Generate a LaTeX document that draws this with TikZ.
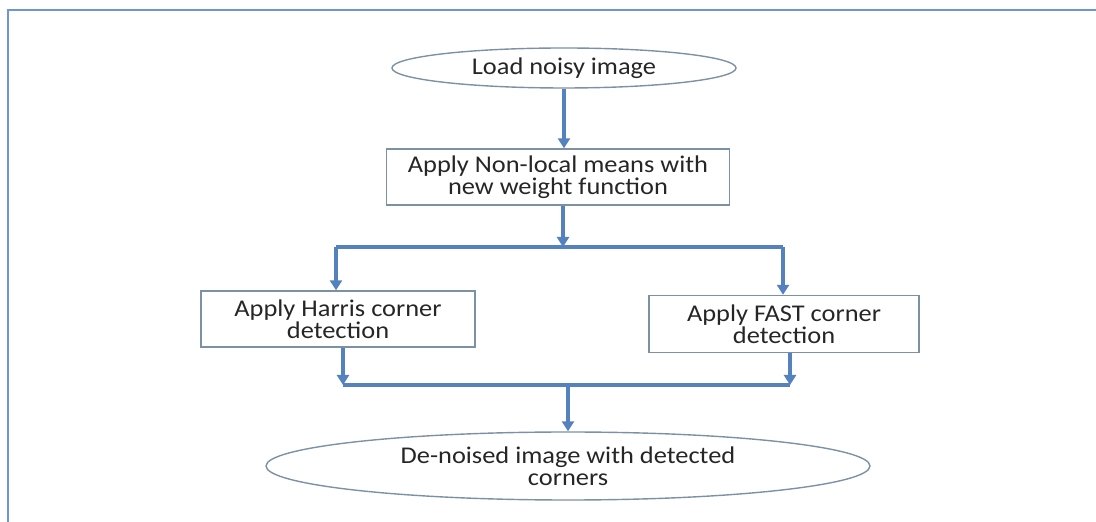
\documentclass[tikz,border=0pt]{standalone}
\usepackage{fontspec}
\setmainfont{Carlito}[FakeStretch=1.1]
\usetikzlibrary{arrows.meta,shapes.geometric}
\definecolor{flowblue}{RGB}{84,130,190}
\definecolor{boxgrey}{RGB}{125,145,165}
\definecolor{framecol}{RGB}{110,150,210}

\begin{document}
\begin{tikzpicture}[x=0.5pt, y=-0.5pt, font=\fontsize{12}{10.8}\selectfont, text=black!85,
    box/.style={draw=boxgrey, line width=0.7pt, rectangle, align=center, inner sep=0pt},
    oval/.style={draw=boxgrey, line width=0.7pt, ellipse, align=center, inner sep=0pt},
    flow/.style={draw=flowblue, line width=1.6pt, -{Triangle[width=6pt,length=5pt]}},
    link/.style={draw=flowblue, line width=1.6pt}]
    \useasboundingbox (0,0) rectangle (1096,522);
    \draw[framecol, line width=1pt] (8,522) -- (8,10) -- (1096,10);

    \node (load) [oval, minimum width=172pt, minimum height=20pt] at (564, 68) {Load noisy image};
    \node (nlm) [box, minimum width=171.5pt, minimum height=28pt] at (558, 177) {Apply Non-local means with\\new weight function};
    \node (harris) [box, minimum width=137pt, minimum height=28pt] at (338, 319) {Apply Harris corner\\detection};
    \node (fast) [box, minimum width=135pt, minimum height=28.5pt] at (784, 324) {Apply FAST corner\\detection};
    \node (result) [oval, minimum width=302pt, minimum height=34pt] at (568, 466) {De-noised image with detected\\corners};

    \coordinate (split) at (563, 247);
    \coordinate (splitL) at (336, 247);
    \coordinate (splitR) at (783, 247);
    \coordinate (join) at (568, 385);
    \coordinate (joinL) at (343, 385);
    \coordinate (joinR) at (790, 385);

    \draw[flow] (load.south) -- (load.south |- nlm.north);
    \draw[flow] (split |- nlm.south) -- (split);
    \draw[link] (splitL) -- (splitR);
    \draw[flow] (splitL) -- (splitL |- harris.north);
    \draw[flow] (splitR) -- (splitR |- fast.north);
    \draw[flow] (joinL |- harris.south) -- (joinL);
    \draw[flow] (joinR |- fast.south) -- (joinR);
    \draw[link] (joinL) -- (joinR);
    \draw[flow] (join) -- (result.north);
\end{tikzpicture}
\end{document}
